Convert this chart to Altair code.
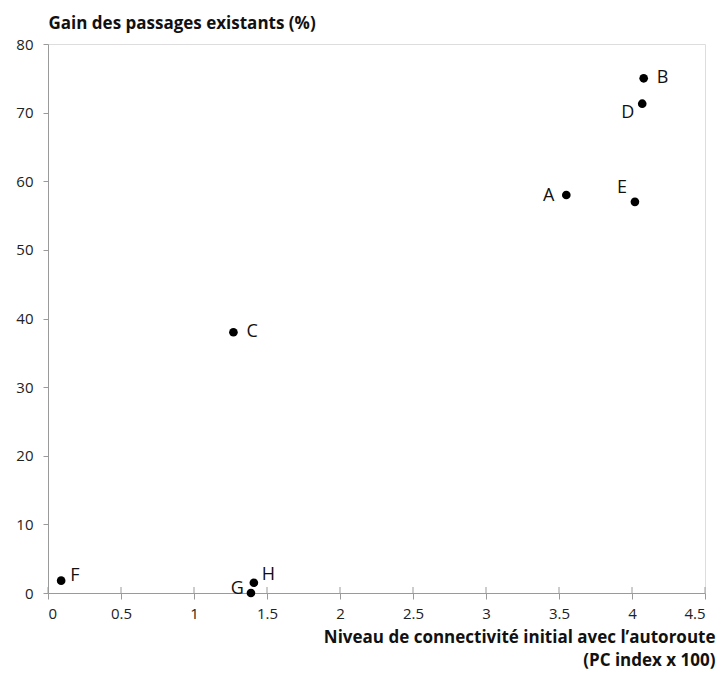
import altair as alt
import pandas as pd

names = ["A", "B", "C", "D", "E", "F", "G", "H"]
pc_index = [3.55, 4.08, 1.27, 4.07, 4.02, 0.09, 1.39, 1.41]
gain = [58.0, 75.0, 38.0, 71.3, 57.0, 1.8, 0.0, 1.5]
x_ticks = [0, 0.5, 1, 1.5, 2, 2.5, 3, 3.5, 4, 4.5]
y_ticks = [0, 10, 20, 30, 40, 50, 60, 70, 80]

df = pd.DataFrame({"name": names, "x": pc_index, "y": gain})
tick_df = pd.DataFrame({"t": x_ticks})

FONT = "Open Sans"
GRAY = "#9a9a9a"
W, H = 657, 549

xscale = alt.Scale(domain=[0, 4.5], nice=False)
yscale = alt.Scale(domain=[0, 80], nice=False)

xenc = alt.X("x:Q", scale=xscale,
             axis=alt.Axis(values=x_ticks, format="~g", grid=False, domainColor=GRAY,
                           tickColor=GRAY, tickSize=6, labelFontSize=15, labelColor="#222",
                           labelFont=FONT, labelPadding=7,
                           title=["Niveau de connectivité initial avec l’autoroute", "(PC index x 100)"],
                           titleFont=FONT, titleFontSize=17, titleFontWeight="bold",
                           titleColor="#111", titleAlign="right", titleAnchor="end",
                           titleX=W + 10, titleY=49, titleBaseline="alphabetic",
                           titleLineHeight=23))
yenc = alt.Y("y:Q", scale=yscale,
             axis=alt.Axis(values=y_ticks, grid=False, domainColor=GRAY, tickColor=GRAY,
                           tickSize=5, labelFontSize=15, labelColor="#222", labelFont=FONT,
                           labelPadding=10,
                           title="Gain des passages existants (%)", titleFont=FONT,
                           titleFontSize=17, titleFontWeight="bold", titleColor="#111",
                           titleAngle=0, titleAlign="left", titleBaseline="alphabetic",
                           titleX=0, titleY=-16))

base = alt.Chart(df).encode(x=xenc, y=yenc)

points = base.mark_circle(size=75, color="black", opacity=1)

# inner half of the x ticks (ticks cross the axis line)
inner_ticks = alt.Chart(tick_df).mark_rule(color=GRAY, strokeWidth=1).encode(
    x=alt.X("t:Q", scale=xscale),
    y=alt.value(H - 6), y2=alt.value(H),
)

def lbl(group, align, dx, dy):
    return base.transform_filter(
        alt.FieldOneOfPredicate(field="name", oneOf=group)
    ).mark_text(align=align, baseline="middle", dx=dx, dy=dy, fontSize=18,
                font=FONT, color="#111").encode(text="name:N")

layers = [
    inner_ticks,
    points,
    lbl(["B", "C"], "left", 13, 0),
    lbl(["F"], "left", 9, -5),
    lbl(["H"], "left", 8, -8),
    lbl(["A"], "right", -12, 1),
    lbl(["G"], "right", -7, -4),
    lbl(["D"], "right", -8, 9),
    lbl(["E"], "right", -8, -14),
]

chart = alt.layer(*layers).properties(
    width=W, height=H,
    autosize=alt.AutoSizeParams(type="none"),
    padding={"left": 40, "top": 36, "right": 11, "bottom": 78},
).configure_view(stroke=GRAY, strokeWidth=1).configure(background="white")

chart.save("out.html", embed_options={"renderer": "svg", "actions": False})
